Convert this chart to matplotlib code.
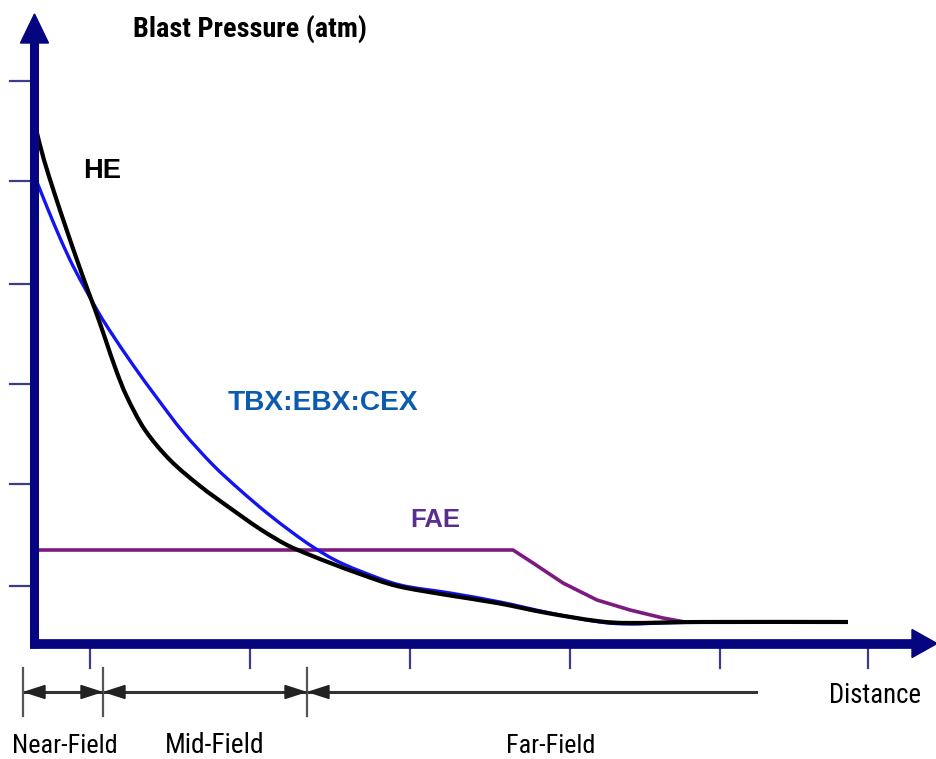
import matplotlib
matplotlib.use("Agg")
import numpy as np
import matplotlib.pyplot as plt
from matplotlib.patches import Polygon, PathPatch
from matplotlib.path import Path
from matplotlib import font_manager as fm

# ---------------- data (x = distance, y = blast pressure,
# both in screen-pixel units of the original diagram, y measured downwards) -------
he_x = [37, 44, 55, 66, 77, 87, 97, 106, 116, 127, 145, 170, 200, 230, 260, 287,
        310, 333, 360, 397, 447, 497, 547, 597, 630, 700, 848]
he_y = [133, 160, 195, 228, 260, 288, 315, 341, 370, 397, 430, 460, 486, 508, 529, 545,
        555, 564, 574, 586, 595, 603, 613, 621, 623, 622, 622]

tbx_x = [37, 47, 60, 73, 87, 97, 110, 133, 157, 183, 213, 240, 267, 293, 313, 335,
         360, 400, 450, 500, 550, 600, 630, 660, 700]
tbx_y = [182, 207, 238, 266, 292, 310, 331, 365, 398, 432, 465, 490, 513, 533, 547, 560,
         571, 585, 593, 602, 613, 622, 624, 623, 622]

fae_x = [37, 513, 533, 563, 597, 630, 663, 685]
fae_y = [550, 550, 563, 583, 600, 610, 618, 622]

y_ticks = [81, 181, 284, 384, 484, 586]
x_ticks = [90, 250, 410, 570, 720, 868]

field_bounds = [23, 103, 307]
far_field_end = 758
field_labels = ["Near-Field", "Mid-Field", "Far-Field"]
field_label_x = [(12, 118), (165, 265), (506, 595)]

series_labels = ["HE", "TBX:EBX:CEX", "FAE"]

# ---------------- styling ----------------
W, H = 937, 759
NAVY = "#050580"
TICK = "#3c3c8c"

names = {f.name for f in fm.fontManager.ttflist}
cond = next((n for n in ["Liberation Sans Narrow", "Roboto Condensed",
                         "Open Sans Condensed", "Noto Sans Condensed"] if n in names), None)
narrow = ([cond] if cond else []) + ["Liberation Sans", "DejaVu Sans"]
wide = ["Liberation Sans", "DejaVu Sans"]

fig = plt.figure(figsize=(W / 100, H / 100), dpi=100)
ax = fig.add_axes([0, 0, 1, 1])
ax.set_xlim(0, W)
ax.set_ylim(H, 0)
ax.axis("off")


def smooth_path(xs, ys):
    """Catmull-Rom curve through the given points as cubic Bezier segments."""
    p = np.column_stack([xs, ys]).astype(float)
    verts = [p[0]]
    codes = [Path.MOVETO]
    n = len(p)
    for i in range(n - 1):
        p0 = p[i - 1] if i > 0 else p[i]
        p1, p2 = p[i], p[i + 1]
        p3 = p[i + 2] if i + 2 < n else p[i + 1]
        c1 = p1 + (p2 - p0) / 6.0
        c2 = p2 - (p3 - p1) / 6.0
        verts += [c1, c2, p2]
        codes += [Path.CURVE4] * 3
    return Path(verts, codes)


ox, oy = 34.5, 643.5  # origin of the drawn axes

# curves
ax.plot(fae_x, fae_y, color="#7d1a80", lw=2.6, solid_capstyle="butt",
        solid_joinstyle="round", zorder=3)
ax.add_patch(PathPatch(smooth_path(tbx_x, tbx_y), fill=False, edgecolor="#1414f0",
                       lw=2.4, capstyle="butt", zorder=4))
ax.add_patch(PathPatch(smooth_path(he_x, he_y), fill=False, edgecolor="black",
                       lw=3.0, capstyle="butt", zorder=5))

# y axis with arrow
ax.plot([ox, ox], [oy + 4, 40], color=NAVY, lw=6.5, solid_capstyle="butt", zorder=6)
ax.add_patch(Polygon([[ox - 14, 43], [ox + 14, 43], [ox, 14]], closed=True,
                     color=NAVY, zorder=6))
# x axis with arrow
ax.plot([ox - 4, 915], [oy, oy], color=NAVY, lw=7, solid_capstyle="butt", zorder=6)
ax.add_patch(Polygon([[912, oy - 14], [912, oy + 14], [937, oy]], closed=True,
                     color=NAVY, zorder=6))

# tick marks
for yt in y_ticks:
    ax.plot([10, 30], [yt, yt], color=TICK, lw=1.6, zorder=5)
for xt in x_ticks:
    ax.plot([xt, xt], [649, 668], color=TICK, lw=1.6, zorder=5)

# field range markers
ay = 692
for xb in field_bounds:
    ax.plot([xb, xb], [668, 716], color="#555555", lw=1.6, zorder=5)
ends = field_bounds + [far_field_end]
for i in range(3):
    x0, x1 = ends[i] + 2, ends[i + 1] - 2
    ax.plot([x0, x1], [ay, ay], color="#333333", lw=2.2, zorder=5)
    ax.add_patch(Polygon([[x0, ay], [x0 + 20, ay - 6.5], [x0 + 20, ay + 6.5]],
                         closed=True, color="#222222", zorder=6))
    if i < 2:
        ax.add_patch(Polygon([[x1, ay], [x1 - 20, ay - 6.5], [x1 - 20, ay + 6.5]],
                             closed=True, color="#222222", zorder=6))

# texts, each sized so it spans the same width as in the reference
renderer = fig.canvas.get_renderer()


def fitted_text(s, x0, x1, base, size, **kw):
    t = ax.text(x0, base, s, fontsize=size, ha="left", va="baseline", **kw)
    for _ in range(3):
        w = t.get_window_extent(renderer=renderer).width
        size = size * (x1 - x0) / w
        t.set_fontsize(size)
    return t


fitted_text("Blast Pressure (atm)", 133, 367, 37, 18, fontweight="bold",
            family=narrow, color="black")
fitted_text(series_labels[0], 83, 121, 178, 18, fontweight="bold",
            family=wide, color="black")
fitted_text(series_labels[1], 228, 418, 410, 20, fontweight="bold",
            family=wide, color="#0b5cb0")
fitted_text(series_labels[2], 410, 460, 527, 18, fontweight="bold",
            family=wide, color="#5a2d91")
fitted_text("Distance", 829, 921, 703, 18, family=narrow, color="black")
for (lx0, lx1), lab in zip(field_label_x, field_labels):
    fitted_text(lab, lx0, lx1, 753, 18, family=narrow, color="black")

fig.savefig("out.png", dpi=100)
